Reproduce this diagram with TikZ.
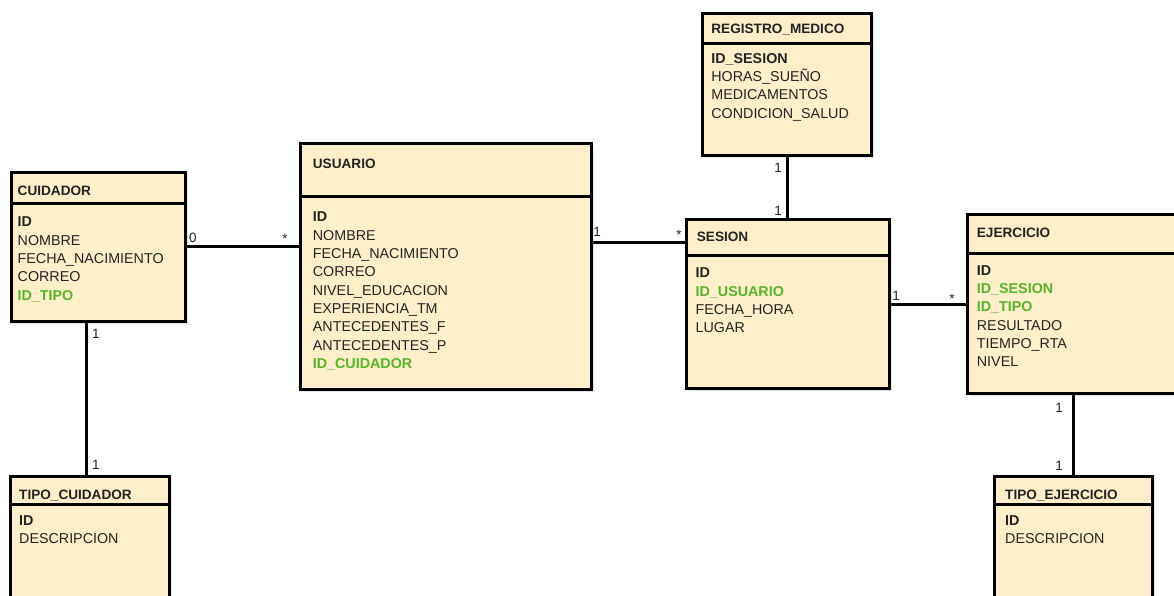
\documentclass[tikz,border=0pt]{standalone}
\usepackage{fontspec}
\setmainfont{Liberation Sans}
\usetikzlibrary{shadows,backgrounds}
\definecolor{entfill}{RGB}{254,239,203}
\definecolor{txt}{RGB}{35,35,35}
\definecolor{fkgreen}{RGB}{88,180,44}
\tikzset{
  ent/.style={draw=black, line width=3pt, fill=entfill, rectangle, inner sep=0pt, anchor=north west,
    drop shadow={shadow xshift=2.5pt, shadow yshift=-2.5pt, opacity=.22, fill=gray}},
  sep/.style={line width=3pt, draw=black},
  hdr/.style={font=\bfseries\fontsize{13.6}{16}\selectfont, text=txt, anchor=base west, inner sep=0pt},
  fld/.style={font=\fontsize{14.3}{16}\selectfont, text=txt, anchor=base west, inner sep=0pt},
  keyf/.style={font=\bfseries\fontsize{14.3}{16}\selectfont, text=txt, anchor=base west, inner sep=0pt},
  fkf/.style={font=\bfseries\fontsize{14.3}{16}\selectfont, text=fkgreen, anchor=base west, inner sep=0pt},
  rel/.style={line width=3pt, draw=black},
  card/.style={font=\fontsize{13.5}{15}\selectfont, text=txt, anchor=base, inner sep=0pt},
}
\begin{document}
\begin{tikzpicture}[x=1pt,y=-1pt]
\clip (0,0) rectangle (1174,596);

% coordinates for connector levels
\coordinate (lvA) at (0,246.7);
\coordinate (lvB) at (0,242.5);
\coordinate (lvC) at (0,304.3);
\coordinate (lvD) at (86.5,0);

% CUIDADOR
\node[ent, minimum width=174.8pt, minimum height=149pt] (cuid) at (9.5,171) {};
\draw[sep] (cuid.west |- 0,203.3) -- (cuid.east |- 0,203.3);
\node[hdr] (cuid-h) at (17.5,195) {CUIDADOR};
\node[keyf] (cuid-1) at (17.5,226.7) {ID};
\node[fld] (cuid-2) at (17.5,245) {NOMBRE};
\node[fld] (cuid-3) at (17.5,263.3) {FECHA\_NACIMIENTO};
\node[fld] (cuid-4) at (17.5,281.7) {CORREO};
\node[fkf] (cuid-5) at (17.5,300) {ID\_TIPO};

% USUARIO
\node[ent, minimum width=291.3pt, minimum height=246pt] (usu) at (299,141.7) {};
\draw[sep] (usu.west |- 0,196.7) -- (usu.east |- 0,196.7);
\node[hdr] (usu-h) at (312.7,168) {USUARIO};
\node[keyf] (usu-1) at (312.7,221.7) {ID};
\node[fld] (usu-2) at (312.7,240) {NOMBRE};
\node[fld] (usu-3) at (312.7,258.3) {FECHA\_NACIMIENTO};
\node[fld] (usu-4) at (312.7,276.7) {CORREO};
\node[fld] (usu-5) at (312.7,295) {NIVEL\_EDUCACION};
\node[fld] (usu-6) at (312.7,313.3) {EXPERIENCIA\_TM};
\node[fld] (usu-7) at (312.7,331.7) {ANTECEDENTES\_F};
\node[fld] (usu-8) at (312.7,350) {ANTECEDENTES\_P};
\node[fkf] (usu-9) at (312.7,368.3) {ID\_CUIDADOR};

% REGISTRO_MEDICO
\node[ent, minimum width=169.6pt, minimum height=142pt] (reg) at (700.7,11.7) {};
\draw[sep] (reg.west |- 0,43.3) -- (reg.east |- 0,43.3);
\node[hdr] (reg-h) at (711.2,33.3) {REGISTRO\_MEDICO};
\node[keyf] (reg-1) at (711.2,63.3) {ID\_SESION};
\node[fld] (reg-2) at (711.2,81.7) {HORAS\_SUEÑO};
\node[fld] (reg-3) at (711.2,100) {MEDICAMENTOS};
\node[fld] (reg-4) at (711.2,118.3) {CONDICION\_SALUD};

% SESION
\node[ent, minimum width=202.7pt, minimum height=168.7pt] (ses) at (685,218.3) {};
\draw[sep] (ses.west |- 0,255) -- (ses.east |- 0,255);
\node[hdr] (ses-h) at (696.7,241.7) {SESION};
\node[keyf] (ses-1) at (695.5,277.7) {ID};
\node[fkf] (ses-2) at (695.5,296) {ID\_USUARIO};
\node[fld] (ses-3) at (695.5,314.3) {FECHA\_HORA};
\node[fld] (ses-4) at (695.5,332.7) {LUGAR};

% EJERCICIO
\node[ent, minimum width=230pt, minimum height=178.7pt] (ej) at (965.7,213.3) {};
\draw[sep] (ej.west |- 0,253) -- (ej.east |- 0,253);
\node[hdr] (ej-h) at (976.7,237.7) {EJERCICIO};
\node[keyf] (ej-1) at (976.7,275) {ID};
\node[fkf] (ej-2) at (976.7,293.3) {ID\_SESION};
\node[fkf] (ej-3) at (976.7,311.7) {ID\_TIPO};
\node[fld] (ej-4) at (976.7,330) {RESULTADO};
\node[fld] (ej-5) at (976.7,348.3) {TIEMPO\_RTA};
\node[fld] (ej-6) at (976.7,366.7) {NIVEL};

% TIPO_CUIDADOR
\node[ent, minimum width=158.7pt, minimum height=160pt] (tc) at (9.3,475) {};
\draw[sep] (tc.west |- 0,504) -- (tc.east |- 0,504);
\node[hdr] (tc-h) at (19,499) {TIPO\_CUIDADOR};
\node[keyf] (tc-1) at (19,525) {ID};
\node[fld] (tc-2) at (19,543.3) {DESCRIPCION};

% TIPO_EJERCICIO
\node[ent, minimum width=157.7pt, minimum height=160pt] (te) at (993.3,475) {};
\draw[sep] (te.west |- 0,504) -- (te.east |- 0,504);
\node[hdr] (te-h) at (1005,499) {TIPO\_EJERCICIO};
\node[keyf] (te-1) at (1005,525) {ID};
\node[fld] (te-2) at (1005,543.3) {DESCRIPCION};

% connectors (behind the boxes)
\begin{pgfonlayer}{background}
\fill[white] (0,0) rectangle (1174,596);
\draw[rel] (cuid.east |- lvA) -- (usu.west |- lvA);
\draw[rel] (usu.east |- lvB) -- (ses.west |- lvB);
\draw[rel] (reg.south) -- (reg.south |- ses.north);
\draw[rel] (ses.east |- lvC) -- (ej.west |- lvC);
\draw[rel] (lvD |- cuid.south) -- (lvD |- tc.north);
\draw[rel] (te.north) -- (te.north |- ej.south);
\end{pgfonlayer}

% cardinalities
\node[card] (k1) at (193,242) {0};
\node[card] (k2) at (285,243) {*};
\node[card] (k3) at (597,236.5) {1};
\node[card] (k4) at (679,239) {*};
\node[card] (k5) at (778,173) {1};
\node[card] (k6) at (778,215.5) {1};
\node[card] (k7) at (896,300) {1};
\node[card] (k8) at (952,303) {*};
\node[card] (k9) at (96,338) {1};
\node[card] (k10) at (96,469.5) {1};
\node[card] (k11) at (1059,412) {1};
\node[card] (k12) at (1059,470) {1};
\end{tikzpicture}
\end{document}
